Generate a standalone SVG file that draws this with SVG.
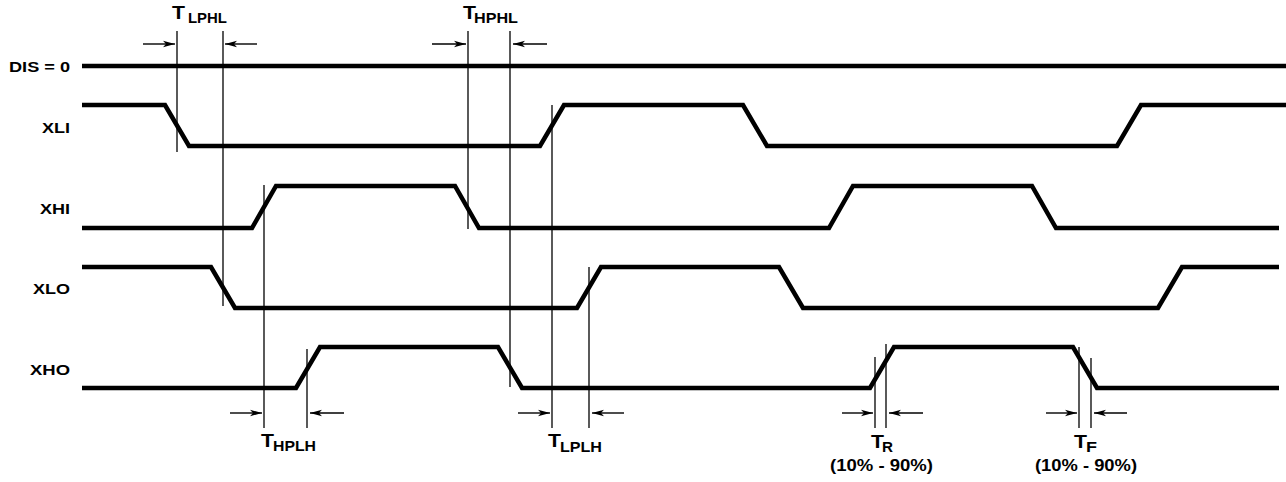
<svg xmlns="http://www.w3.org/2000/svg" width="1286" height="482" viewBox="0 0 1286 482">
<style>
.sig{fill:none;stroke:#000;stroke-width:4.5;stroke-linejoin:miter;stroke-linecap:butt}
.ref{stroke:#000;stroke-width:1.3}
.arr{stroke:#000;stroke-width:1.4;marker-end:url(#ah)}
.lbl{font-family:"Liberation Sans",Arial,sans-serif;font-weight:bold;font-size:14px;fill:#000}
.T{font-family:"Liberation Sans",Arial,sans-serif;font-weight:bold;font-size:18px;fill:#000}
.sub{font-family:"Liberation Sans",Arial,sans-serif;font-weight:bold;font-size:14px;fill:#000}
.pct{font-family:"Liberation Sans",Arial,sans-serif;font-weight:bold;font-size:16px;fill:#000}
</style>
<defs>
<marker id="ah" markerUnits="userSpaceOnUse" markerWidth="14" markerHeight="8" refX="12" refY="4" orient="auto">
<path d="M0,0.8 L12,4 L0,7.2 L3,4 Z" fill="#000"/>
</marker>
</defs>
<rect width="1286" height="482" fill="#fff"/>
<g id="DIS">
<text class="lbl" x="70" y="72" text-anchor="end" textLength="61" lengthAdjust="spacingAndGlyphs">DIS = 0</text>
<polyline class="sig" points="82,66 1286,66"/>
</g>
<g id="XLI">
<text class="lbl" x="70" y="133" text-anchor="end" textLength="28" lengthAdjust="spacingAndGlyphs">XLI</text>
<polyline class="sig" points="82,105 165,105 189,146 540,146 564,105 743,105 767,146 1117,146 1141,105 1286,105"/>
</g>
<g id="XHI">
<text class="lbl" x="70" y="214" text-anchor="end" textLength="30" lengthAdjust="spacingAndGlyphs">XHI</text>
<polyline class="sig" points="82,228 252,228 276,186 455,186 479,228 829,228 853,186 1032,186 1056,228 1279,228"/>
</g>
<g id="XLO">
<text class="lbl" x="70" y="294" text-anchor="end" textLength="37" lengthAdjust="spacingAndGlyphs">XLO</text>
<polyline class="sig" points="82,267 211,267 235,308 577,308 601,267 779,267 803,308 1158,308 1182,267 1279,267"/>
</g>
<g id="XHO">
<text class="lbl" x="70" y="375" text-anchor="end" textLength="40" lengthAdjust="spacingAndGlyphs">XHO</text>
<polyline class="sig" points="82,388 296,388 320,347 498,347 522,388 870,388 894,347 1073,347 1097,388 1279,388"/>
</g>
<g id="connectors">
<line class="ref" x1="177" y1="31" x2="177" y2="152"/>
<line class="ref" x1="223" y1="31" x2="223" y2="306"/>
<line class="ref" x1="468" y1="31" x2="468" y2="229"/>
<line class="ref" x1="510" y1="31" x2="510" y2="387"/>
<line class="ref" x1="552" y1="105" x2="552" y2="428"/>
<line class="ref" x1="589" y1="267" x2="589" y2="428"/>
<line class="ref" x1="264" y1="185" x2="264" y2="428"/>
<line class="ref" x1="307" y1="349" x2="307" y2="428"/>
<line class="ref" x1="875" y1="357" x2="875" y2="428"/>
<line class="ref" x1="886" y1="344" x2="886" y2="428"/>
<line class="ref" x1="1079" y1="347" x2="1079" y2="428"/>
<line class="ref" x1="1091" y1="358" x2="1091" y2="428"/>
<line class="arr" x1="143" y1="44" x2="175" y2="44"/>
<line class="arr" x1="257" y1="44" x2="225" y2="44"/>
<line class="arr" x1="432" y1="44" x2="466" y2="44"/>
<line class="arr" x1="547" y1="44" x2="513" y2="44"/>
<line class="arr" x1="230" y1="413" x2="262" y2="413"/>
<line class="arr" x1="344" y1="413" x2="310" y2="413"/>
<line class="arr" x1="518" y1="413" x2="550" y2="413"/>
<line class="arr" x1="624" y1="413" x2="592" y2="413"/>
<line class="arr" x1="842" y1="413" x2="873" y2="413"/>
<line class="arr" x1="923" y1="413" x2="889" y2="413"/>
<line class="arr" x1="1046" y1="413" x2="1077" y2="413"/>
<line class="arr" x1="1127" y1="413" x2="1094" y2="413"/>
</g>
<g id="labels">
<text class="T" x="172" y="19" textLength="13" lengthAdjust="spacingAndGlyphs">T</text>
<text class="sub" x="188" y="23" textLength="39" lengthAdjust="spacingAndGlyphs">LPHL</text>
<text class="T" x="463" y="19" textLength="13" lengthAdjust="spacingAndGlyphs">T</text>
<text class="sub" x="474" y="23" textLength="44" lengthAdjust="spacingAndGlyphs">HPHL</text>
<text class="T" x="261" y="447" textLength="13" lengthAdjust="spacingAndGlyphs">T</text>
<text class="sub" x="273" y="451" textLength="43" lengthAdjust="spacingAndGlyphs">HPLH</text>
<text class="T" x="548" y="447" textLength="13" lengthAdjust="spacingAndGlyphs">T</text>
<text class="sub" x="560" y="452" textLength="42" lengthAdjust="spacingAndGlyphs">LPLH</text>
<text class="T" x="871" y="448" textLength="13" lengthAdjust="spacingAndGlyphs">T</text>
<text class="sub" x="882" y="452" textLength="11" lengthAdjust="spacingAndGlyphs">R</text>
<text class="pct" x="830" y="471" textLength="103" lengthAdjust="spacingAndGlyphs">(10% - 90%)</text>
<text class="T" x="1074" y="448" textLength="13" lengthAdjust="spacingAndGlyphs">T</text>
<text class="sub" x="1086" y="452" textLength="11" lengthAdjust="spacingAndGlyphs">F</text>
<text class="pct" x="1035" y="471" textLength="102" lengthAdjust="spacingAndGlyphs">(10% - 90%)</text>
</g>
</svg>
